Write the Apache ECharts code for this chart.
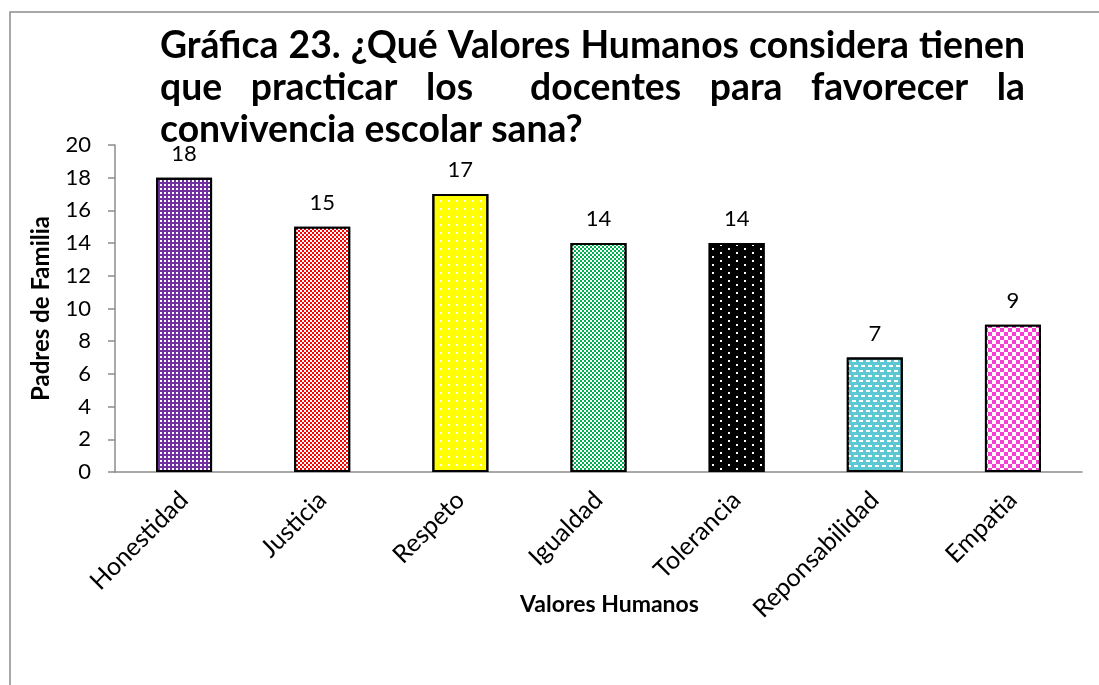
<!DOCTYPE html>
<html>
<head>
<meta charset="utf-8">
<script src="https://cdn.jsdelivr.net/npm/echarts@6/dist/echarts.min.js"></script>
<style>
  html, body { margin: 0; padding: 0; background: #fff; }
  #chart { width: 1099px; height: 685px; }
</style>
</head>
<body>
<div id="chart"></div>
<script>
// data
const categories = ['Honestidad', 'Justicia', 'Respeto', 'Igualdad', 'Tolerancia', 'Reponsabilidad', 'Empatia'];
const values = [18, 15, 17, 14, 14, 7, 9];
const yMax = 20;
const yInterval = 2;

const titleLine1 = ['Gráfica', '23.', '¿Qué', 'Valores', 'Humanos', 'considera', 'tienen'];
const titleLine2 = ['que', 'practicar', 'los', '', 'docentes', 'para', 'favorecer', 'la'];
const titleLine3 = 'convivencia escolar sana?';

const barColors = ['#7030A0', '#FF0000', '#FFFF00', '#00B050', '#000000', '#5BC8D4', '#F43FD3'];

// fill patterns (Excel-like hatches)
const decals = [
  { dashArrayX: [2, 2], dashArrayY: [2, 2] },
  { dashArrayX: [[2, 2], [0, 2, 2, 0]], dashArrayY: [2, 0] },
  { dashArrayX: [2, 6], dashArrayY: [2, 6] },
  { dashArrayX: [[2, 2], [0, 2, 2, 0]], dashArrayY: [2, 0] },
  { dashArrayX: [[2, 14], [0, 8, 2, 6]], dashArrayY: [2, 2] },
  { dashArrayX: [[4, 3], [2, 3, 2, 0]], dashArrayY: [1.5, 2.5] },
  { dashArrayX: [[4, 4], [0, 4, 4, 0]], dashArrayY: [4, 0] }
].map(d => Object.assign({ symbol: 'rect', color: '#ffffff', symbolSize: 1, symbolKeepAspect: false, rotation: 0 }, d));

const font = 'Lato';

// justified title, measured on a canvas
const ctx = document.createElement('canvas').getContext('2d');
ctx.font = `bold 30px ${font}`;
const titleSize = 30 * 423 / ctx.measureText(titleLine3).width;
ctx.font = `bold ${titleSize}px ${font}`;
const titleLeft = 160, titleRight = 1025;

function justify(words, y) {
  const widths = words.map(w => ctx.measureText(w).width);
  const total = widths.reduce((a, b) => a + b, 0);
  const gap = (titleRight - titleLeft - total) / (words.length - 1);
  let x = titleLeft;
  return words.map((w, i) => {
    const el = {
      type: 'text', x: x, y: y, silent: true,
      style: { text: w, font: `bold ${titleSize}px ${font}`, fill: '#000', textVerticalAlign: 'middle' }
    };
    x += widths[i] + gap;
    return el;
  });
}

const graphics = [
  {
    type: 'rect', silent: true, z: -10,
    shape: { x: 10, y: 12, width: 1300, height: 900 },
    style: { fill: 'none', stroke: '#8c8c8c', lineWidth: 1.5 }
  },
  ...justify(titleLine1, 46),
  ...justify(titleLine2, 88),
  {
    type: 'text', x: titleLeft, y: 130, silent: true,
    style: { text: titleLine3, font: `bold ${titleSize}px ${font}`, fill: '#000', textVerticalAlign: 'middle' }
  }
];

const chart = echarts.init(document.getElementById('chart'));

chart.setOption({
  animation: false,
  backgroundColor: '#fff',
  aria: { enabled: true, decal: { show: true } },
  textStyle: { fontFamily: font },
  grid: { left: 115, right: 17, top: 145, bottom: 213, containLabel: false },
  xAxis: {
    type: 'category',
    data: categories,
    name: 'Valores Humanos',
    nameLocation: 'middle',
    nameGap: 121,
    nameMoveOverlap: false,
    nameTextStyle: { fontFamily: font, fontWeight: 'bold', fontSize: 23, color: '#000', padding: [0, 0, 0, 22] },
    axisLine: { lineStyle: { color: '#8c8c8c', width: 1.5 } },
    axisTick: { show: false },
    axisLabel: { rotate: 45, fontSize: 25, color: '#000', margin: 24, fontFamily: font }
  },
  yAxis: {
    type: 'value',
    min: 0,
    max: yMax,
    interval: yInterval,
    name: 'Padres de Familia',
    nameLocation: 'middle',
    nameGap: 62,
    nameRotate: 90,
    nameMoveOverlap: false,
    nameTextStyle: { fontFamily: font, fontWeight: 'bold', fontSize: 24, color: '#000' },
    axisLine: { show: true, lineStyle: { color: '#8c8c8c', width: 1.5 } },
    axisTick: { show: true, length: 7, lineStyle: { color: '#8c8c8c', width: 1.5 } },
    axisLabel: { fontSize: 22, color: '#000', margin: 24, fontFamily: font },
    splitLine: { show: false }
  },
  series: [{
    type: 'bar',
    barWidth: 56,
    data: values.map((v, i) => ({
      value: v,
      itemStyle: { color: barColors[i], borderColor: '#000', borderWidth: 2, decal: decals[i] }
    })),
    label: {
      show: true,
      position: 'top',
      distance: 13,
      fontSize: 22,
      color: '#000',
      fontFamily: font
    }
  }],
  graphic: graphics
});
</script>
</body>
</html>
